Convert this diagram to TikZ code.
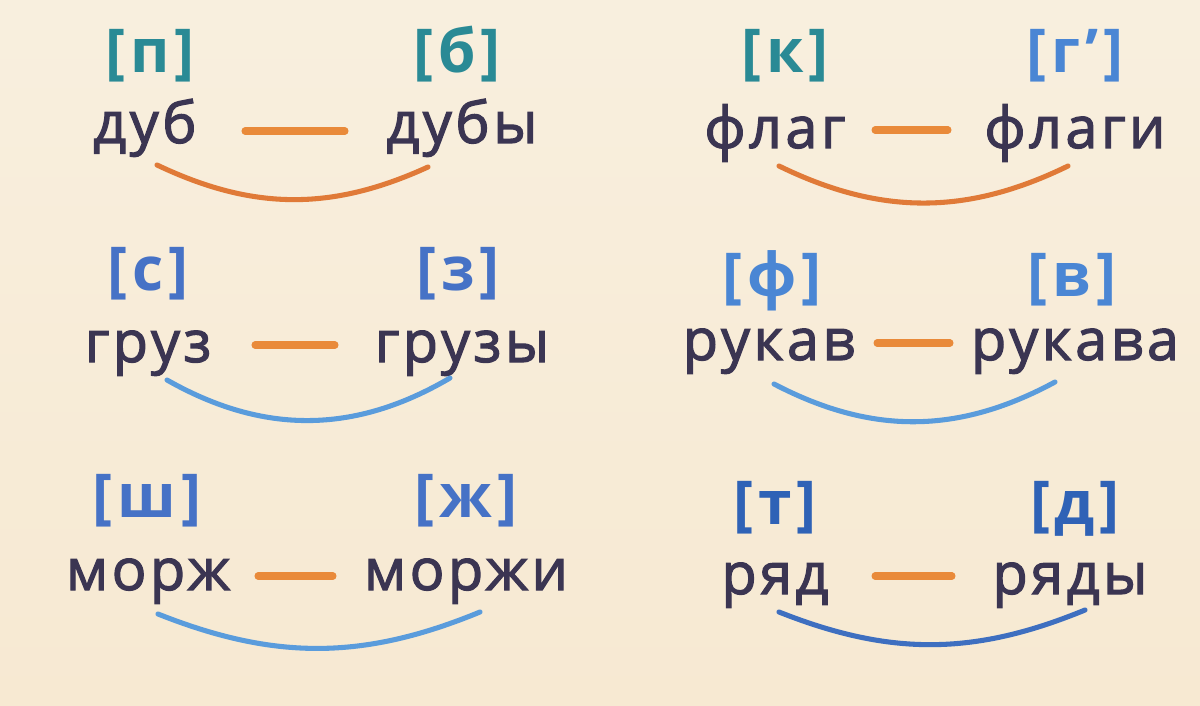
\documentclass[tikz,border=0pt]{standalone}
\usepackage{fontspec}
\setmainfont{Open Sans}[LetterSpace=8]
\newfontfamily\wordfont{Open Sans}[LetterSpace=6, FakeBold=2]
\usepackage{xcolor}
\usetikzlibrary{positioning}

\definecolor{ink}{HTML}{3B3552}
\definecolor{teal}{HTML}{2A8A95}
\definecolor{bluemid}{HTML}{4672C6}
\definecolor{bluelight}{HTML}{4A86D4}
\definecolor{bluedark}{HTML}{2F62B6}
\definecolor{arcorange}{HTML}{E07A38}
\definecolor{dashorange}{HTML}{E98A3A}
\definecolor{arcblue}{HTML}{5A9CDC}
\definecolor{arcdark}{HTML}{3E6FC0}
\definecolor{bgtop}{HTML}{F8EFDE}
\definecolor{bgmid}{HTML}{F2F0E3}
\definecolor{bgbot}{HTML}{F7E9D2}

\begin{document}
\begin{tikzpicture}[
    word/.style={anchor=base, inner sep=0pt, text=ink, font=\wordfont\fontsize{41}{42}\selectfont},
    sound/.style={anchor=base, inner sep=0pt, font=\bfseries\fontsize{43}{44}\selectfont},
    dashline/.style={line width=5pt, line cap=round, dashorange},
    arcline/.style={line width=3.6pt, line cap=round}
]
    \useasboundingbox (0,0) rectangle (30,17.625);
    \fill[top color=bgtop, middle color=bgmid, bottom color=bgbot] (0,0) rectangle (30,17.625);

    % row 1
    \node[sound, text=teal]      (sP)  at (3.75,15.8)   {[п]};
    \node[sound, text=teal]      (sB)  at (11.425,15.8) {[б]};
    \node[sound, text=teal]      (sK)  at (19.625,15.8) {[к]};
    \node[sound, text=bluelight] (sG)  at (26.875,15.8) {[г’]};
    \node[word] (dub)   at (3.625,14.05)  {дуб};
    \node[word] (duby)  at (11.55,14.05)  {дубы};
    \node[word] (flag)  at (19.375,13.925) {флаг};
    \node[word] (flagi) at (26.875,13.925) {флаги};

    % row 2
    \node[sound, text=bluemid]   (sS)  at (3.7,10.375)   {[с]};
    \node[sound, text=bluemid]   (sZ)  at (11.45,10.375) {[з]};
    \node[sound, text=bluelight] (sF)  at (19.3,10.225)  {[ф]};
    \node[sound, text=bluelight] (sV)  at (26.8,10.225)  {[в]};
    \node[word] (gruz)   at (3.7,8.575)    {груз};
    \node[word] (gruzy)  at (11.55,8.575)  {грузы};
    \node[word] (rukav)  at (19.225,8.625) {рукав};
    \node[word] (rukava) at (26.875,8.625) {рукава};

    % row 3
    \node[sound, text=bluemid]   (sSh) at (3.675,4.7)   {[ш]};
    \node[sound, text=bluemid]   (sZh) at (11.65,4.7)   {[ж]};
    \node[sound, text=bluedark]  (sT)  at (19.375,4.525) {[т]};
    \node[sound, text=bluedark]  (sD)  at (26.875,4.525) {[д]};
    \node[word] (morzh)  at (3.7,2.875)    {морж};
    \node[word] (morzhi) at (11.65,2.875)  {моржи};
    \node[word] (ryad)   at (19.375,2.775) {ряд};
    \node[word] (ryady)  at (26.75,2.775)  {ряды};

    % dashes between the words
    \draw[dashline] ([xshift=2.5cm,yshift=0.3cm]dub.base)    -- ([xshift=-2.925cm,yshift=0.3cm]duby.base);
    \draw[dashline] ([xshift=2.5cm,yshift=0.45cm]flag.base)  -- ([xshift=-3.175cm,yshift=0.45cm]flagi.base);
    \draw[dashline] ([xshift=2.675cm,yshift=0.425cm]gruz.base) -- ([xshift=-3.175cm,yshift=0.425cm]gruzy.base);
    \draw[dashline] ([xshift=2.7cm,yshift=0.425cm]rukav.base) -- ([xshift=-3.125cm,yshift=0.425cm]rukava.base);
    \draw[dashline] ([xshift=2.75cm,yshift=0.35cm]morzh.base) -- ([xshift=-3.325cm,yshift=0.35cm]morzhi.base);
    \draw[dashline] ([xshift=2.5cm,yshift=0.45cm]ryad.base)  -- ([xshift=-2.95cm,yshift=0.45cm]ryady.base);

    % arcs under the pairs
    \draw[arcline, arcorange] ([xshift=0.3cm,yshift=-0.55cm]dub.base)    to[bend right=25] ([xshift=-0.85cm,yshift=-0.6cm]duby.base);
    \draw[arcline, arcorange] ([xshift=0.1cm,yshift=-0.45cm]flag.base)   to[bend right=26] ([xshift=-0.175cm,yshift=-0.45cm]flagi.base);
    \draw[arcline, arcblue]   ([xshift=0.475cm,yshift=-0.45cm]gruz.base) to[bend right=30] ([xshift=-0.3cm,yshift=-0.4cm]gruzy.base);
    \draw[arcline, arcblue]   ([xshift=0.125cm,yshift=-0.6cm]rukav.base) to[bend right=28] ([xshift=-0.5cm,yshift=-0.55cm]rukava.base);
    \draw[arcline, arcblue]   ([xshift=0.25cm,yshift=-0.6cm]morzh.base)  to[bend right=22] ([xshift=0.35cm,yshift=-0.55cm]morzhi.base);
    \draw[arcline, arcdark]   ([xshift=0.1cm,yshift=-0.45cm]ryad.base)   to[bend right=22] ([xshift=0.375cm,yshift=-0.4cm]ryady.base);
\end{tikzpicture}
\end{document}
